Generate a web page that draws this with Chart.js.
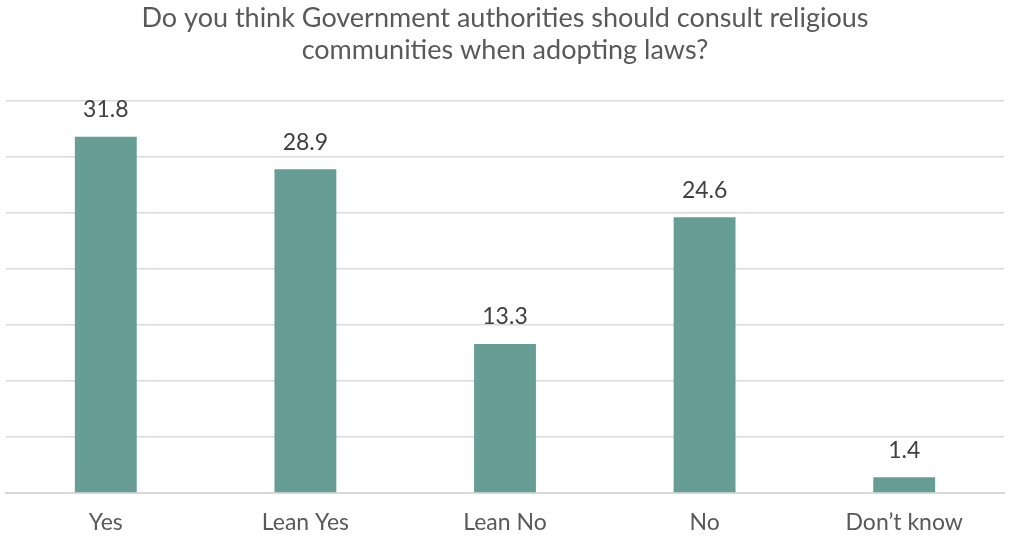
<!DOCTYPE html>
<html>
<head>
<meta charset="utf-8">
<script src="https://cdn.jsdelivr.net/npm/chart.js@4/dist/chart.umd.min.js"></script>
<style>
  html, body { margin: 0; padding: 0; background: #ffffff; }
  #wrap { width: 1009px; height: 536px; position: relative; }
</style>
</head>
<body>
<div id="wrap"><canvas id="c" width="1009" height="536"></canvas></div>
<script>
// Survey responses (percent)
const categories = ['Yes', 'Lean Yes', 'Lean No', 'No', 'Don\u2019t know'];
const shares = [31.8, 28.9, 13.3, 24.6, 1.4];
const titleLines = ['Do you think Government authorities should consult religious', 'communities when adopting laws?'];

const FONT = "'Lato', 'Open Sans', sans-serif";

// Writes each bar's value just above it
const valueLabels = {
  id: 'valueLabels',
  afterDatasetsDraw(chart) {
    const ctx = chart.ctx;
    const meta = chart.getDatasetMeta(0);
    ctx.save();
    ctx.font = '23px ' + FONT;
    ctx.fillStyle = '#404040';
    ctx.textAlign = 'center';
    ctx.textBaseline = 'middle';
    meta.data.forEach((bar, i) => {
      ctx.fillText(shares[i].toFixed(1), bar.x, bar.y - 27);
    });
    ctx.restore();
  }
};

new Chart(document.getElementById('c'), {
  type: 'bar',
  data: {
    labels: categories,
    datasets: [{
      data: shares,
      backgroundColor: '#669E96',
      borderWidth: 0,
      categoryPercentage: 1,
      barPercentage: 0.31
    }]
  },
  options: {
    responsive: false,
    animation: false,
    layout: { padding: { left: 6, right: 5, top: 0, bottom: 0 } },
    plugins: {
      legend: { display: false },
      tooltip: { enabled: false },
      title: {
        display: true,
        text: titleLines,
        color: '#595959',
        font: { family: FONT, size: 27, weight: 'normal', lineHeight: 1.2 },
        padding: { top: 2, bottom: 34 }
      }
    },
    scales: {
      x: {
        grid: { display: false, drawTicks: false },
        border: { color: '#d9d9d9', width: 2 },
        ticks: {
          color: '#595959',
          font: { family: FONT, size: 23, lineHeight: 1.2 },
          padding: 16,
          maxRotation: 0
        },
        afterFit(scale) { scale.height = 43; }
      },
      y: {
        min: 0,
        max: 35,
        ticks: { display: false, stepSize: 5 },
        grid: { color: '#d9d9d9', lineWidth: 1.5, drawTicks: false },
        border: { display: false }
      }
    }
  },
  plugins: [valueLabels]
});
</script>
</body>
</html>
